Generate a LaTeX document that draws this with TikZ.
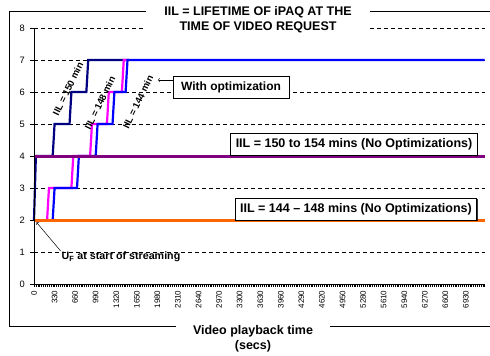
\documentclass[tikz,border=0pt]{standalone}
\usepackage{fontspec}
\setmainfont{Liberation Sans}
\usetikzlibrary{shadows}
\definecolor{navyrun}{RGB}{0,0,128}
\definecolor{magentarun}{RGB}{255,0,255}
\definecolor{bluerun}{RGB}{0,0,255}
\definecolor{purplerun}{RGB}{128,0,128}
\definecolor{orangerun}{RGB}{255,102,0}
\begin{document}
\begin{tikzpicture}[x=1pt,y=-1pt]
        \tikzstyle{grid}=[dash pattern=on 4pt off 3pt, line width=0.6pt]
        \tikzstyle{series}=[line width=2.2pt]
        \tikzstyle{flat}=[line width=3pt]
        \tikzstyle{note}=[draw, fill=white, line width=0.8pt, font=\fontsize{12.5}{15}\selectfont\bfseries, minimum height=22pt, inner xsep=5pt, inner ysep=0pt, drop shadow={shadow xshift=1pt, shadow yshift=-1pt, fill=black, opacity=0.8}]
        \tikzstyle{runlabel}=[font=\fontsize{9.5}{11}\selectfont\bfseries, rotate=64, inner sep=0pt]
        \tikzstyle{ticklabel}=[font=\fontsize{8}{9}\selectfont, rotate=90, anchor=east, inner sep=1pt]
        \tikzstyle{pointer}=[->, shorten >=1pt, line width=0.5pt]
        \useasboundingbox (0,0) rectangle (490,356);
        \draw[line width=1pt] (9,11) rectangle (495,326);
       \begin{scope}[shift={(34,284)}, x=0.062337pt, y=32pt]
         % grid and series
         \foreach \v in {1,...,8} \draw[grid] (0,\v) -- (7230,\v);
         \draw[series, navyrun] (0,2) -- (30,4) -- (300,4) -- (330,5) -- (570,5) -- (600,6) -- (840,6) -- (870,7) -- (1500,7);
         \draw[series, magentarun] (210,2) -- (240,3) -- (600,3) -- (630,4) -- (900,4) -- (930,5) -- (1170,5) -- (1200,6) -- (1410,6) -- (1440,7) -- (1530,7);
         \draw[series, bluerun] (300,2) -- (330,3) -- (690,3) -- (720,4) -- (990,4) -- (1020,5) -- (1260,5) -- (1290,6) -- (1470,6) -- (1500,7) -- (7230,7);
         \draw[flat, purplerun] (0,4) -- (7230,4);
         \draw[flat, orangerun] (0,2) -- (7230,2);
         % axes
         \draw[line width=1pt] (0,8) -- (0,0) -- (7230,0);
         \foreach \v in {0,...,8} {
           \draw[line width=0.6pt] (0,\v) -- ++(-4pt,0);
           \node[anchor=east, inner sep=0pt, xshift=-9pt, font=\fontsize{9.3}{10}\selectfont] (y\v) at (0,\v) {\v};
         }
         \foreach \t in {0,30,...,7230} \draw[line width=0.4pt] (\t,0) -- ++(0,-3pt);
         \foreach \t in {0,330,...,6930} \node[ticklabel] (x\t) at (\t,-0.17) {\t};
         \coordinate (uftip) at (30,1.95);
       \end{scope}
       \node[fill=white, align=center, inner xsep=18pt, inner ysep=2pt, font=\fontsize{12.5}{15}\selectfont\bfseries] (title) at (258,20) {IIL = LIFETIME OF iPAQ AT THE\\TIME OF VIDEO REQUEST};
       \node[fill=white, align=center, inner xsep=17pt, inner ysep=1pt, font=\fontsize{12.5}{15}\selectfont\bfseries] (xtitle) at (253,339) {Video playback time\\(secs)};
       \node[runlabel] (l150) at (68,89) {IIL = 150 min};
       \node[runlabel] (l148) at (100,103) {IIL = 148 min};
       \node[runlabel] (l144) at (138,102) {IIL = 144 min};
       \node[note, font=\fontsize{12}{14}\selectfont\bfseries, inner xsep=8pt] (opt) at (231,87) {With optimization};
       \coordinate (opttip) at (157,80);
       \draw[pointer] (opttip -| opt.west) -- (opttip);
       \node[note] (nomax) at (354,144) {IIL = 150 to 154 mins (No Optimizations)};
       \node[note] (nomin) at (356,209) {IIL = 144 -- 148 mins (No Optimizations)};
       \node[font=\fontsize{10.7}{12}\selectfont\bfseries, inner sep=1pt] (ufnote) at (121,257) {U\textsubscript{F} at start of streaming};
       \draw[pointer] (ufnote.north west) -- (uftip);
      \end{tikzpicture}
\end{document}
